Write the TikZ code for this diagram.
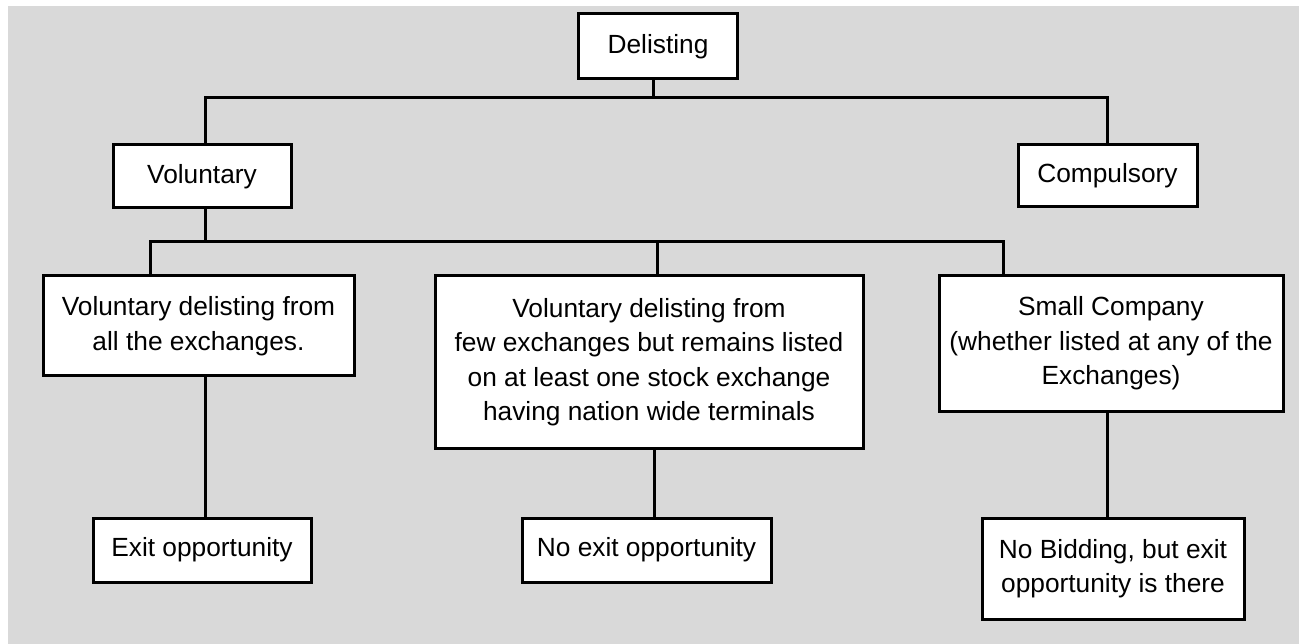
\documentclass[tikz,border=0pt]{standalone}
\usepackage{fontspec}
\setmainfont{Liberation Sans}
\definecolor{bggray}{HTML}{D9D9D9}
\begin{document}
\begin{tikzpicture}[x=1pt,y=-1pt,
  box/.style={draw=black,fill=white,line width=3pt,inner sep=0pt,align=center,
    font=\fontsize{26.3}{34.5}\selectfont},
  conn/.style={draw=black,line width=3pt}]
\useasboundingbox (0,0) rectangle (1299,644);
\fill[bggray] (8,6) rectangle (1299,644);
% top level
\node[box,minimum width=159pt,minimum height=65pt] (del) at (658,46.5) {Delisting};
\node[box,minimum width=178pt,minimum height=63pt] (vol) at (202,176.5) {Voluntary};
\node[box,minimum width=179pt,minimum height=62pt] (comp) at (1107.5,176) {Compulsory};
% second level
\node[box,minimum width=311pt,minimum height=100pt] (L1) at (198.5,326) {Voluntary delisting from\\all the exchanges.};
\node[box,minimum width=428pt,minimum height=172pt] (M) at (649,362) {Voluntary delisting from\\few exchanges but remains listed\\on at least one stock exchange\\having nation wide terminals};
\node[box,minimum width=344pt,minimum height=135pt] (R) at (1111,343.5) {Small Company\\(whether listed at any of the\\Exchanges)};
% third level
\node[box,minimum width=218pt,minimum height=64pt] (exit) at (202,550) {Exit opportunity};
\node[box,minimum width=249pt,minimum height=64pt] (noexit) at (646.5,550) {No exit opportunity};
\node[box,minimum width=262pt,minimum height=101pt] (nobid) at (1113,568.5) {No Bidding, but exit\\opportunity is there};
% bus coordinates
\coordinate (b1) at (653,98);
\coordinate (b2) at (205,242);
% connectors
\draw[conn] ([xshift=-5pt]del.south) -- (b1);
\draw[conn] ([xshift=3pt]vol.north) |- (b1) -| (comp.north);
\draw[conn] ([xshift=3pt]vol.south) -- (b2);
\draw[conn] ([xshift=-48.5pt]L1.north) |- (b2) -| ([xshift=-108pt]R.north);
\draw[conn] ([xshift=8pt]M.north) -- ([xshift=8pt]M.north |- b2);
\draw[conn] ([xshift=6.5pt]L1.south) -- ([xshift=3pt]exit.north);
\draw[conn] ([xshift=5pt]M.south) -- ([xshift=7.5pt]noexit.north);
\draw[conn] ([xshift=-4pt]R.south) -- ([xshift=-6pt]nobid.north);
\end{tikzpicture}
\end{document}
